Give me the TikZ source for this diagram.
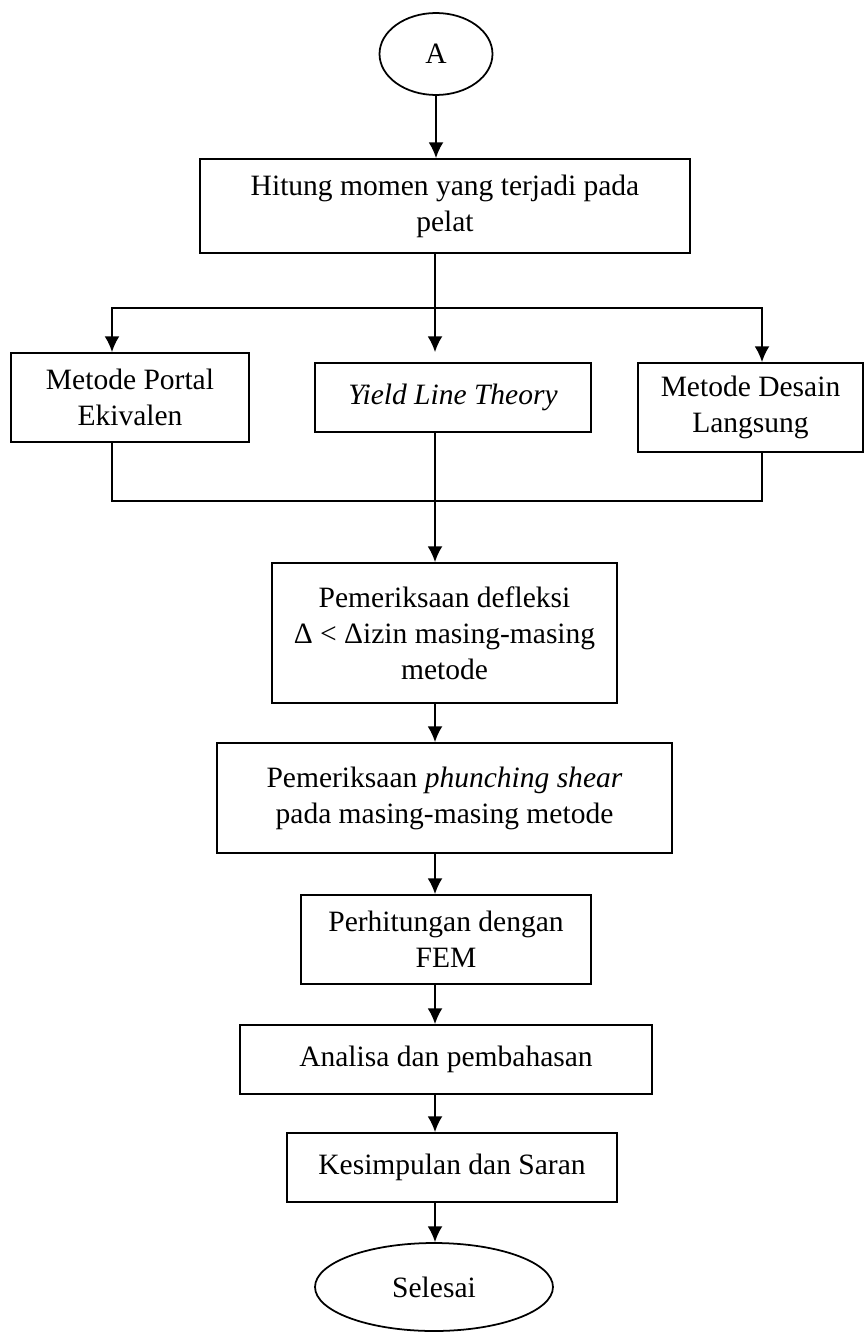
\documentclass[tikz,border=0pt]{standalone}
\usepackage{fontspec}
\setmainfont{Liberation Serif}
\usetikzlibrary{shapes.geometric,arrows.meta}
\tikzset{
  >={Latex[length=9pt,width=8.5pt]},
}
\tikzstyle{box}=[draw,line width=1pt,align=center,inner sep=0pt]
\tikzstyle{term}=[draw,ellipse,line width=1pt,inner sep=0pt]
\tikzstyle{flow}=[line width=1.1pt,->]
\tikzstyle{link}=[line width=1.1pt]
\tikzstyle{every node}=[font=\fontsize{16.8}{20.5}\selectfont]

\begin{document}
\begin{tikzpicture}[x=0.02cm,y=-0.02cm]
    \useasboundingbox (0,0) rectangle (865,1335);
    \node[term,minimum width=2.26cm,minimum height=1.64cm] (A) at (436,54) {A};
    \node[box,minimum width=9.8cm,minimum height=1.88cm] (hitung) at (445,206)
      {Hitung momen yang terjadi pada\\pelat};
    \node[box,minimum width=4.76cm,minimum height=1.78cm] (portal) at (130,397.5)
      {Metode Portal\\Ekivalen};
    \node[box,minimum width=5.52cm,minimum height=1.38cm] (yield) at (453,397.5)
      {\textit{Yield Line Theory}};
    \node[box,minimum width=4.5cm,minimum height=1.78cm] (desain) at (750.5,407.5)
      {Metode Desain\\Langsung};
    \node[box,minimum width=6.9cm,minimum height=2.8cm] (defleksi) at (444.5,633)
      {Pemeriksaan defleksi\\Δ < Δizin masing-masing\\metode};
    \node[box,minimum width=9.1cm,minimum height=2.2cm] (punching) at (444.5,798)
      {Pemeriksaan \textit{phunching shear}\\pada masing-masing metode};
    \node[box,minimum width=5.8cm,minimum height=1.78cm] (fem) at (446,939.5)
      {Perhitungan dengan\\FEM};
    \node[box,minimum width=8.24cm,minimum height=1.38cm] (analisa) at (446,1059.5)
      {Analisa dan pembahasan};
    \node[box,minimum width=6.6cm,minimum height=1.38cm] (kesimpulan) at (452,1167.5)
      {Kesimpulan dan Saran};
    \node[term,minimum width=4.76cm,minimum height=1.76cm] (selesai) at (434,1287) {Selesai};

    \coordinate (split) at (435,308);
    \coordinate (join) at (435,501);
    \coordinate (pl) at (112,308);
    \coordinate (pr) at (762,308);
    \draw[flow] (A.south) -- (A.south |- hitung.north);
    \draw[link] (split |- hitung.south) -- (split);
    \draw[flow] (split) -- (pl) -- (pl |- portal.north);
    \draw[flow] (split) -- (pr) -- (pr |- desain.north);
    \draw[flow,shorten >=0.2cm] (split) -- (split |- yield.north);
    \draw[link] (pl |- portal.south) |- (join);
    \draw[link] (pr |- desain.south) |- (join);
    \draw[flow] (split |- yield.south) -- (split |- defleksi.north);
    \foreach \a/\b in {defleksi/punching,punching/fem,fem/analisa,analisa/kesimpulan,kesimpulan/selesai}
      \draw[flow] (split |- \a.south) -- (split |- \b.north);
  \end{tikzpicture}
\end{document}
